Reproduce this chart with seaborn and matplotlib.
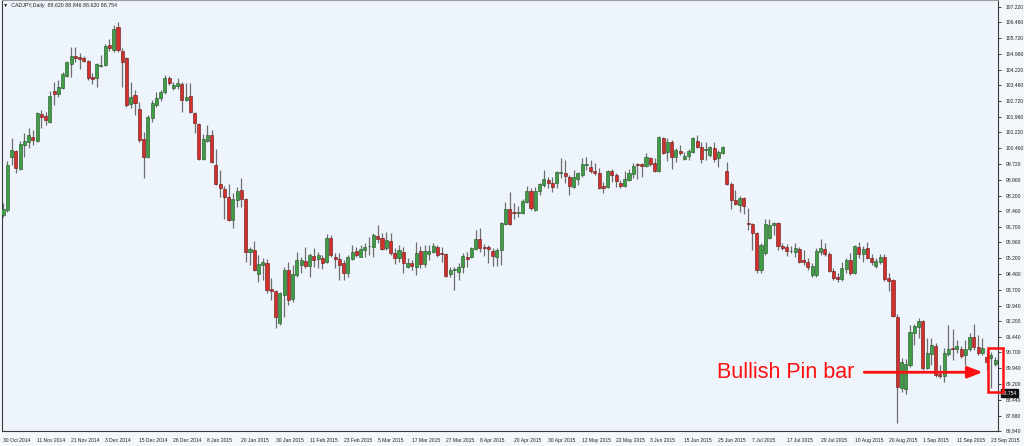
import numpy as np
import pandas as pd
import matplotlib
matplotlib.use("Agg")
import matplotlib.pyplot as plt
import matplotlib.transforms as mtransforms
from matplotlib.patches import Rectangle
import seaborn as sns

# CADJPY daily candles (30 Oct 2014 - 23 Sep 2015)
opens = [97.27, 97.50, 100.04, 100.33, 99.47, 100.62, 100.76, 101.00, 100.81, 102.10,
         102.00, 101.72, 103.20, 103.06, 103.34, 103.92, 104.49, 104.88, 104.83, 104.78,
         104.64, 103.87, 103.82, 104.40, 104.44, 105.40, 105.16, 106.26, 105.11, 104.78,
         102.58, 103.01, 102.34, 100.90, 100.04, 101.91, 102.53, 102.87, 103.15, 103.82,
         103.34, 103.44, 103.54, 102.77, 102.96, 102.15, 101.62, 99.95, 100.81, 101.10,
         99.66, 98.75, 98.51, 98.13, 97.03, 97.99, 98.46, 98.03, 95.50, 95.59,
         94.44, 94.87, 94.97, 93.73, 93.63, 92.10, 93.44, 94.64, 93.25, 94.40,
         94.87, 95.07, 94.82, 95.30, 95.16, 95.21, 95.02, 96.17, 95.26, 95.16,
         94.97, 94.49, 95.16, 95.54, 95.26, 95.59, 95.78, 95.74, 96.26, 96.17,
         95.69, 96.02, 95.45, 95.21, 95.50, 94.78, 94.97, 94.78, 95.54, 94.92,
         95.40, 95.50, 95.74, 95.45, 95.40, 94.44, 94.64, 94.54, 94.78, 95.26,
         95.26, 95.64, 96.12, 95.74, 95.74, 95.54, 95.26, 95.59, 96.84, 97.55,
         97.41, 97.39, 97.36, 97.89, 98.42, 97.50, 98.42, 98.70, 98.94, 98.80,
         98.80, 99.28, 99.28, 99.09, 98.61, 98.99, 99.18, 99.66, 99.57, 99.37,
         99.28, 98.66, 98.61, 99.37, 99.18, 98.80, 98.66, 98.94, 99.23, 99.71,
         99.71, 99.61, 99.99, 99.76, 99.37, 100.95, 100.28, 100.76, 100.04, 100.33,
         99.95, 100.09, 100.28, 100.81, 100.52, 100.38, 100.14, 100.47, 99.99, 100.23,
         99.37, 98.75, 97.99, 97.75, 98.08, 96.88, 96.84, 96.41, 94.64, 95.45,
         96.17, 96.79, 96.88, 95.78, 95.74, 95.54, 95.50, 95.64, 95.11, 95.02,
         94.40, 94.40, 95.50, 95.64, 95.40, 94.59, 94.30, 94.20, 94.68, 95.11,
         94.49, 95.74, 95.40, 95.69, 95.21, 94.82, 95.02, 95.26, 94.25, 94.16,
         92.39, 88.99, 88.94, 90.09, 91.62, 91.91, 92.20, 89.95, 90.62, 91.00,
         89.66, 89.56, 90.62, 90.90, 90.86, 90.86, 90.57, 90.86, 91.43, 90.95,
         90.66, 90.47, 90.42, 90.14]
highs = [97.84, 99.85, 100.95, 100.38, 100.81, 101.19, 101.43, 101.33, 102.20, 102.29,
         102.20, 103.20, 103.63, 103.73, 104.11, 104.64, 105.31, 105.31, 105.02, 104.88,
         104.68, 104.06, 104.54, 104.92, 105.45, 105.69, 106.36, 106.50, 105.26, 104.83,
         103.63, 103.25, 102.68, 101.24, 102.05, 102.77, 103.15, 103.25, 103.97, 103.92,
         103.63, 103.82, 103.63, 103.58, 103.58, 102.20, 101.67, 101.14, 101.57, 101.33,
         100.43, 99.42, 98.66, 98.75, 98.32, 98.61, 99.04, 98.08, 95.74, 96.02,
         95.35, 95.21, 95.16, 94.25, 93.68, 93.58, 94.78, 95.02, 94.87, 95.50,
         95.26, 95.74, 95.45, 95.69, 95.50, 95.35, 96.36, 96.31, 95.45, 95.45,
         95.11, 95.35, 95.83, 95.74, 95.83, 95.93, 96.21, 96.41, 96.79, 96.41,
         96.45, 96.41, 95.69, 95.83, 95.74, 95.21, 95.11, 95.97, 95.78, 95.83,
         95.83, 95.93, 95.83, 95.74, 95.45, 94.78, 94.78, 94.97, 95.45, 95.50,
         95.74, 96.55, 96.64, 95.88, 95.83, 95.69, 95.69, 96.93, 97.89, 98.37,
         97.84, 97.70, 98.03, 98.66, 98.56, 98.61, 98.80, 99.42, 99.09, 99.09,
         99.37, 99.99, 99.90, 99.18, 99.42, 99.33, 99.99, 100.04, 99.90, 99.76,
         99.52, 98.85, 99.42, 99.47, 99.28, 98.94, 99.37, 99.47, 99.76, 99.76,
         99.76, 100.23, 100.04, 99.99, 101.05, 101.00, 100.95, 100.86, 100.47, 100.62,
         100.28, 100.43, 101.00, 101.10, 100.76, 100.76, 100.57, 100.76, 100.38, 100.57,
         99.80, 98.85, 98.46, 98.17, 98.13, 97.60, 96.88, 96.45, 95.93, 97.08,
         97.08, 96.93, 96.93, 95.93, 95.88, 95.78, 95.93, 95.74, 95.59, 95.21,
         94.97, 95.69, 96.12, 95.93, 95.50, 94.73, 94.49, 95.02, 95.21, 95.45,
         95.83, 95.97, 95.78, 95.97, 95.40, 95.21, 95.40, 95.40, 94.49, 94.20,
         92.53, 90.42, 90.38, 92.00, 92.05, 92.34, 92.24, 91.38, 91.38, 91.14,
         90.09, 90.90, 92.00, 91.81, 91.29, 91.00, 91.29, 91.62, 92.05, 91.53,
         91.38, 90.81, 90.71, 90.47]
lows = [97.17, 97.41, 99.66, 99.28, 99.42, 100.04, 100.47, 100.62, 100.76, 101.43,
        101.57, 101.67, 102.53, 102.91, 103.30, 103.87, 103.87, 104.59, 104.25, 104.59,
        103.73, 103.54, 103.39, 104.35, 104.40, 105.11, 105.07, 105.07, 103.39, 102.44,
        102.39, 102.05, 100.76, 99.04, 99.99, 101.72, 102.44, 102.72, 103.06, 103.49,
        103.25, 103.30, 102.20, 102.72, 102.15, 101.19, 99.90, 99.90, 100.76, 99.76,
        98.70, 98.13, 97.08, 96.98, 96.64, 97.65, 97.65, 95.02, 94.87, 94.59,
        94.06, 94.16, 93.54, 93.20, 91.86, 92.00, 92.39, 92.96, 93.10, 94.30,
        94.49, 94.73, 94.30, 94.78, 94.73, 94.68, 94.97, 95.26, 94.73, 94.16,
        94.16, 94.30, 95.11, 95.26, 95.26, 95.26, 95.35, 95.26, 95.93, 95.59,
        95.59, 95.35, 94.92, 95.02, 94.49, 94.73, 94.64, 94.40, 94.73, 94.78,
        95.11, 95.45, 95.26, 95.02, 94.30, 94.30, 93.68, 94.16, 94.49, 94.78,
        95.21, 95.59, 95.50, 95.30, 94.97, 94.82, 94.82, 94.87, 96.79, 96.79,
        97.08, 97.17, 97.31, 97.84, 97.50, 97.46, 98.22, 98.61, 98.56, 98.37,
        98.56, 99.04, 98.80, 98.22, 98.56, 98.70, 99.09, 99.42, 99.28, 99.18,
        98.51, 98.32, 98.56, 98.85, 98.61, 98.56, 98.61, 98.89, 99.04, 98.99,
        99.09, 99.57, 99.61, 99.33, 99.33, 100.19, 99.85, 99.47, 99.80, 100.14,
        99.90, 99.90, 100.23, 100.47, 99.76, 99.90, 100.04, 99.80, 99.57, 100.19,
        98.70, 97.55, 97.75, 97.41, 97.31, 96.55, 95.59, 94.49, 94.49, 95.35,
        96.12, 96.31, 95.59, 95.59, 95.30, 95.45, 95.26, 94.97, 94.87, 94.64,
        94.30, 94.30, 95.35, 95.30, 94.54, 94.16, 94.06, 94.11, 94.49, 94.40,
        94.44, 95.21, 95.02, 95.16, 94.87, 94.73, 94.92, 94.11, 93.63, 92.39,
        87.31, 88.80, 88.70, 89.99, 91.05, 91.38, 89.85, 89.90, 90.09, 89.52,
        89.47, 89.28, 90.52, 90.33, 90.66, 90.42, 90.09, 90.76, 90.81, 90.57,
        90.57, 89.85, 88.99, 90.04]
closes = [97.55, 99.66, 100.38, 99.52, 100.67, 100.81, 101.10, 100.86, 102.15, 101.96,
          101.81, 102.96, 103.06, 103.39, 104.01, 104.59, 104.88, 104.78, 104.73, 104.64,
          103.82, 103.77, 104.49, 104.44, 105.35, 105.26, 106.17, 105.16, 104.59, 102.53,
          102.91, 102.63, 100.86, 100.04, 101.96, 102.63, 102.87, 103.15, 103.82, 103.58,
          103.49, 103.58, 102.77, 102.91, 102.20, 101.67, 99.95, 100.90, 101.10, 99.80,
          98.75, 98.56, 98.13, 97.03, 98.03, 98.41, 98.03, 95.50, 95.64, 94.64,
          94.92, 95.02, 93.68, 93.63, 92.39, 93.54, 94.64, 93.20, 94.44, 95.11,
          95.11, 94.82, 95.35, 95.11, 95.35, 94.97, 96.17, 95.35, 95.16, 94.87,
          94.49, 95.26, 95.50, 95.35, 95.64, 95.74, 95.81, 96.31, 96.12, 95.64,
          96.07, 95.45, 95.21, 95.59, 94.97, 94.97, 94.82, 95.45, 94.92, 95.54,
          95.54, 95.78, 95.35, 95.40, 94.35, 94.64, 94.68, 94.78, 95.30, 95.16,
          95.69, 96.12, 95.69, 95.71, 95.64, 95.30, 95.59, 96.88, 97.55, 96.84,
          97.39, 97.43, 97.94, 98.42, 97.60, 98.42, 98.75, 98.99, 98.80, 98.61,
          99.33, 99.30, 99.13, 98.66, 99.09, 99.28, 99.71, 99.68, 99.37, 99.28,
          98.56, 98.56, 99.37, 99.18, 98.89, 98.66, 98.99, 99.28, 99.61, 99.68,
          99.61, 100.04, 99.71, 99.37, 101.00, 100.23, 100.76, 100.04, 100.38, 100.23,
          100.09, 100.33, 100.95, 100.52, 99.95, 100.40, 100.52, 99.95, 100.28, 100.52,
          98.75, 97.99, 97.79, 98.08, 97.70, 96.84, 96.41, 94.64, 95.83, 96.84,
          96.79, 96.88, 95.78, 95.69, 95.54, 95.57, 95.69, 95.02, 95.02, 94.78,
          94.82, 95.54, 95.69, 95.40, 94.59, 94.25, 94.20, 94.73, 95.11, 94.49,
          95.78, 95.40, 95.64, 95.21, 95.02, 95.07, 95.26, 94.20, 94.11, 92.44,
          89.04, 90.23, 90.14, 91.67, 91.96, 92.20, 89.95, 90.66, 91.05, 89.61,
          89.56, 90.66, 90.86, 90.86, 91.00, 90.52, 90.86, 91.43, 90.95, 90.66,
          90.90, 90.23, 90.57, 90.33]

date_labels = ["30 Oct 2014", "11 Nov 2014", "21 Nov 2014", "3 Dec 2014", "15 Dec 2014",
               "26 Dec 2014", "8 Jan 2015", "20 Jan 2015", "30 Jan 2015", "11 Feb 2015",
               "23 Feb 2015", "5 Mar 2015", "17 Mar 2015", "27 Mar 2015", "8 Apr 2015",
               "20 Apr 2015", "30 Apr 2015", "12 May 2015", "22 May 2015", "3 Jun 2015",
               "15 Jun 2015", "25 Jun 2015", "7 Jul 2015", "17 Jul 2015", "29 Jul 2015",
               "10 Aug 2015", "20 Aug 2015", "1 Sep 2015", "11 Sep 2015", "23 Sep 2015"]
price_ticks = [107.220, 106.480, 105.720, 104.980, 104.220, 103.480, 102.720, 101.960,
               101.220, 100.460, 99.720, 98.960, 98.200, 97.460, 96.700, 95.960, 95.200,
               94.460, 93.700, 92.940, 92.200, 91.440, 90.700, 89.940, 89.200, 88.440,
               87.680, 86.940]
header = "CADJPY,Daily  88.620 88.846 88.620 88.754"
last_price = 88.754

df = pd.DataFrame({"open": opens, "high": highs, "low": lows, "close": closes})
df["bar"] = np.arange(len(df))
df["up"] = df["close"] >= df["open"]

sns.set_style("white")
plt.rcParams["font.family"] = ["Liberation Sans", "DejaVu Sans"]

bg = "#eef4fb"
fig = plt.figure(figsize=(10.24, 4.46), dpi=100, facecolor="#f3f6fa")
ax = fig.add_axes([2 / 1024, 15 / 446, 996 / 1024, 431 / 446])
ax.set_facecolor(bg)

# wicks
ax.vlines(df["bar"], df["low"], df["high"], color="#6e6e6e", lw=0.9, zorder=2)

# bodies
body_h = (df["close"] - df["open"]).abs().clip(lower=0.03)
body_b = df[["open", "close"]].min(axis=1)
up = df["up"]
ax.bar(df.loc[up, "bar"], body_h[up], bottom=body_b[up], width=0.72,
       color="#3f9e45", edgecolor="#1f4f22", linewidth=0.4, zorder=3)
ax.bar(df.loc[~up, "bar"], body_h[~up], bottom=body_b[~up], width=0.72,
       color="#d3302c", edgecolor="#5e1412", linewidth=0.4, zorder=3)

ax.set_xlim(-0.235, 233.66)
ax.set_ylim(86.94, 107.555)

# axes / ticks
tick_size = 3.6
ax.yaxis.tick_right()
ax.set_yticks(price_ticks)
ax.set_yticklabels([f"{p:.3f}" for p in price_ticks])
ax.set_xticks(np.arange(0, len(date_labels) * 8, 8))
ax.set_xticklabels(date_labels, ha="left")
ax.tick_params(axis="y", direction="out", length=2.5, width=0.6, pad=3,
               labelsize=tick_size, colors="#222222")
ax.tick_params(axis="x", direction="out", length=3, width=0.6, pad=2,
               labelsize=tick_size, colors="#222222")
for side, sp in ax.spines.items():
    sp.set_color("#3a3a3a")
    sp.set_linewidth(0.8)
ax.spines["top"].set_color("#9a9a9a")

# current price box
trans = mtransforms.blended_transform_factory(ax.transAxes, ax.transData)
ax.text(1.004, last_price, "88.754", transform=trans, fontsize=tick_size, color="white",
        va="center", ha="left", clip_on=False,
        bbox=dict(boxstyle="square,pad=0.25", fc="#111111", ec="#111111"))

fig.text(3 / 1024, 1 - 5 / 446, "▼  " + header, fontsize=3.8, color="#222222",
         va="center", ha="left")

# annotation
red = "#ff1010"
ax.text(200.0, 89.75, "Bullish Pin bar", color=red, fontsize=15.5, ha="right",
        va="center")
ax.annotate("", xy=(230.7, 89.75), xytext=(201.6, 89.75),
            arrowprops=dict(arrowstyle="-|>,head_length=0.9,head_width=0.35",
                            color=red, lw=2))
ax.add_patch(Rectangle((231.3, 88.80), 3.5, 2.10, fill=False, ec=red, lw=1.8,
                       clip_on=False, zorder=5))

fig.savefig("out.png", dpi=100, facecolor=fig.get_facecolor())
